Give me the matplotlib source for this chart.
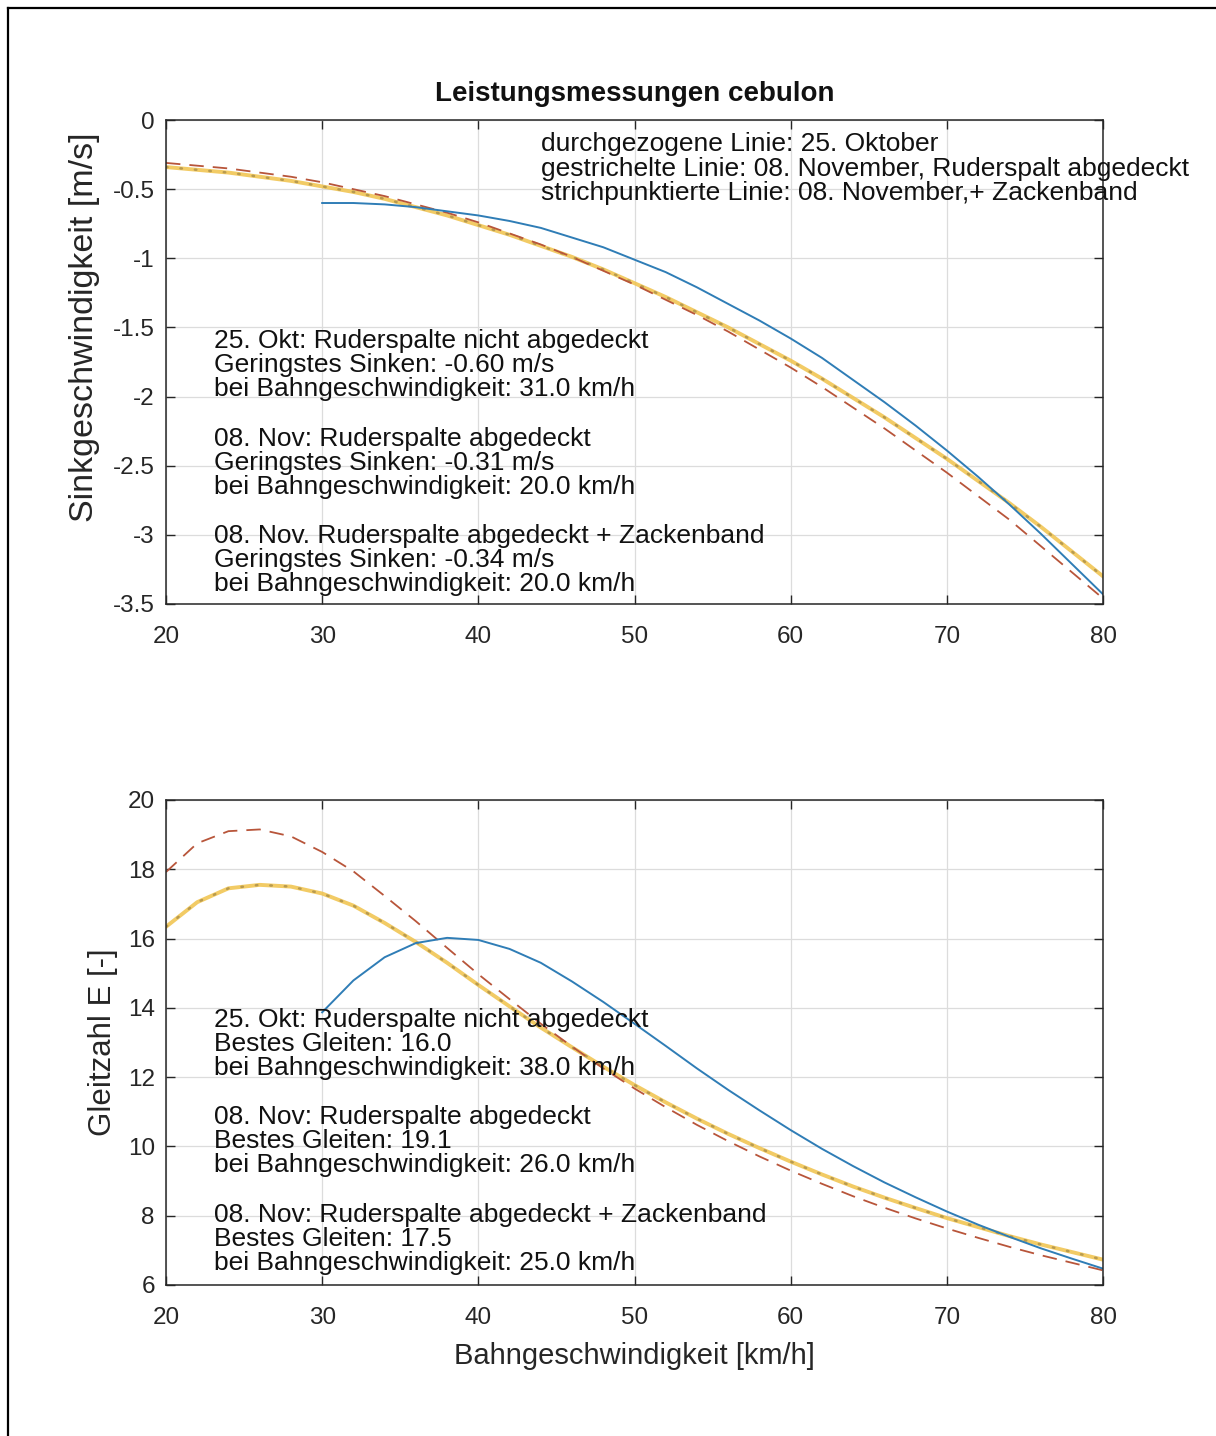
import matplotlib

matplotlib.use("Agg")
import matplotlib.pyplot as plt  # noqa: E402
from matplotlib.lines import Line2D  # noqa: E402

plt.rcParams["font.family"] = ["Liberation Sans", "DejaVu Sans"]
plt.rcParams["axes.unicode_minus"] = False

# ---------------------------------------------------------------------------
# Data
# ---------------------------------------------------------------------------

speed = [20, 22, 24, 26, 28, 30, 32, 34, 36, 38, 40, 42, 44, 46, 48, 50,
         52, 54, 56, 58, 60, 62, 64, 66, 68, 70, 72, 74, 76, 78, 80]
speed_oct = [30, 32, 34, 36, 38, 40, 42, 44, 46, 48, 50, 52, 54, 56, 58,
             60, 62, 64, 66, 68, 70, 72, 74, 76, 78, 80]

# sink rate [m/s]
sink_oct = [-0.60, -0.60, -0.61, -0.63, -0.66, -0.69, -0.73, -0.78, -0.85,
            -0.92, -1.01, -1.10, -1.21, -1.33, -1.45, -1.58, -1.72, -1.88,
            -2.04, -2.21, -2.39, -2.58, -2.78, -2.99, -3.21, -3.43]
sink_nov = [-0.31, -0.33, -0.35, -0.38, -0.41, -0.45, -0.50, -0.55, -0.61,
            -0.67, -0.74, -0.82, -0.90, -0.99, -1.09, -1.19, -1.30, -1.41,
            -1.53, -1.66, -1.79, -1.93, -2.08, -2.23, -2.39, -2.55, -2.72,
            -2.89, -3.08, -3.27, -3.46]
sink_zack = [-0.34, -0.36, -0.38, -0.41, -0.44, -0.48, -0.52, -0.57, -0.63,
             -0.69, -0.76, -0.83, -0.91, -0.99, -1.08, -1.18, -1.28, -1.39,
             -1.50, -1.62, -1.74, -1.87, -2.01, -2.15, -2.30, -2.45, -2.61,
             -2.77, -2.94, -3.12, -3.30]

# glide ratio E [-]
glide_oct = [13.87, 14.79, 15.46, 15.87, 16.02, 15.96, 15.70, 15.30, 14.76,
             14.17, 13.54, 12.90, 12.25, 11.63, 11.04, 10.47, 9.93, 9.43,
             8.96, 8.53, 8.12, 7.74, 7.39, 7.06, 6.76, 6.47]
glide_nov = [17.92, 18.75, 19.10, 19.15, 18.95, 18.50, 17.94, 17.23, 16.50,
             15.73, 14.97, 14.25, 13.54, 12.88, 12.25, 11.67, 11.13, 10.62,
             10.15, 9.71, 9.30, 8.92, 8.56, 8.23, 7.92, 7.63, 7.36, 7.10,
             6.86, 6.64, 6.42]
glide_zack = [16.34, 17.05, 17.45, 17.55, 17.50, 17.30, 16.95, 16.45, 15.90,
              15.30, 14.66, 14.04, 13.43, 12.86, 12.30, 11.77, 11.27, 10.80,
              10.36, 9.95, 9.56, 9.19, 8.84, 8.52, 8.22, 7.93, 7.67, 7.41,
              7.17, 6.95, 6.73]

x_ticks = [20, 30, 40, 50, 60, 70, 80]
sink_ticks = [0, -0.5, -1, -1.5, -2, -2.5, -3, -3.5]
sink_tick_labels = ["0", "-0.5", "-1", "-1.5", "-2", "-2.5", "-3", "-3.5"]
glide_ticks = [6, 8, 10, 12, 14, 16, 18, 20]

legend_lines = [
    "durchgezogene Linie: 25. Oktober",
    "gestrichelte Linie: 08. November, Ruderspalt abgedeckt",
    "strichpunktierte Linie: 08. November,+ Zackenband",
]
sink_notes = [
    ["25. Okt: Ruderspalte nicht abgedeckt",
     "Geringstes Sinken: -0.60 m/s",
     "bei Bahngeschwindigkeit: 31.0 km/h"],
    ["08. Nov: Ruderspalte abgedeckt",
     "Geringstes Sinken: -0.31 m/s",
     "bei Bahngeschwindigkeit: 20.0 km/h"],
    ["08. Nov. Ruderspalte abgedeckt + Zackenband",
     "Geringstes Sinken: -0.34 m/s",
     "bei Bahngeschwindigkeit: 20.0 km/h"],
]
glide_notes = [
    ["25. Okt: Ruderspalte nicht abgedeckt",
     "Bestes Gleiten: 16.0",
     "bei Bahngeschwindigkeit: 38.0 km/h"],
    ["08. Nov: Ruderspalte abgedeckt",
     "Bestes Gleiten: 19.1",
     "bei Bahngeschwindigkeit: 26.0 km/h"],
    ["08. Nov: Ruderspalte abgedeckt + Zackenband",
     "Bestes Gleiten: 17.5",
     "bei Bahngeschwindigkeit: 25.0 km/h"],
]

BLUE = "#2f7db6"
RED = "#b8553a"
YELLOW = "#f0c24a"
DOTS = "#b89a4e"
INK = "#262626"


def draw_curves(ax, y_oct, y_nov, y_zack):
    ax.plot(speed, y_zack, color=YELLOW, linewidth=2.8, alpha=0.85)
    ax.plot(speed, y_zack, color=DOTS, linewidth=1.8, linestyle=(0, (0.6, 5.2)),
            dash_capstyle="round")
    ax.plot(speed, y_nov, color=RED, linewidth=1.3, linestyle=(0, (8, 5)))
    ax.plot(speed_oct, y_oct, color=BLUE, linewidth=1.4)


def style_axes(ax):
    ax.set_xlim(20, 80)
    ax.set_xticks(x_ticks)
    ax.grid(True, color="#dcdcdc", linewidth=0.9)
    ax.set_axisbelow(True)
    ax.tick_params(direction="in", length=6.5, width=1.0, top=True, right=True,
                   labelsize=17.5, colors=INK)
    ax.tick_params(axis="x", pad=16)
    ax.tick_params(axis="y", pad=8)
    for sp in ax.spines.values():
        sp.set_color(INK)
        sp.set_linewidth(1.1)


def put_notes(ax, x, starts, step, blocks):
    for y0, block in zip(starts, blocks):
        for i, line in enumerate(block):
            ax.text(x, y0 - i * step, line, fontsize=19, color="#111111",
                    va="center", ha="left")


fig = plt.figure(figsize=(12.16, 14.36), dpi=100)
ax1 = fig.add_axes([0.1365, 0.5794, 0.7706, 0.3370])
ax2 = fig.add_axes([0.1365, 0.1052, 0.7706, 0.3377])

# --- top: sink rate -------------------------------------------------------
draw_curves(ax1, sink_oct, sink_nov, sink_zack)
style_axes(ax1)
ax1.set_ylim(-3.5, 0)
ax1.set_yticks(sink_ticks)
ax1.set_yticklabels(sink_tick_labels)
ax1.set_ylabel("Sinkgeschwindigkeit [m/s]", fontsize=24.5, color=INK)
ax1.yaxis.set_label_coords(-0.0704, 0.572)
ax1.set_title("Leistungsmessungen cebulon", fontsize=20, fontweight="bold",
              pad=13.5, color="#111111")
put_notes(ax1, 44, [-0.174], 0.178, [legend_lines])
put_notes(ax1, 23.07, [-1.598, -2.307, -3.008], 0.175, sink_notes)

# --- bottom: glide ratio --------------------------------------------------
draw_curves(ax2, glide_oct, glide_nov, glide_zack)
style_axes(ax2)
ax2.set_ylim(6, 20)
ax2.set_yticks(glide_ticks)
ax2.set_ylabel("Gleitzahl E [-]", fontsize=22.5, color=INK)
ax2.yaxis.set_label_coords(-0.051, 0.5)
ax2.set_xlabel("Bahngeschwindigkeit [km/h]", fontsize=21, color=INK)
ax2.xaxis.set_label_coords(0.5, -0.118)
put_notes(ax2, 23.07, [13.65, 10.85, 8.02], 0.70, glide_notes)

# outer frame (top and left edges only, like the screenshot)
fig.add_artist(Line2D([8 / 1216, 1], [1 - 8 / 1436] * 2, transform=fig.transFigure,
                      color="black", linewidth=1.6))
fig.add_artist(Line2D([8 / 1216] * 2, [0, 1 - 8 / 1436], transform=fig.transFigure,
                      color="black", linewidth=1.6))

fig.savefig("out.png", dpi=100)
